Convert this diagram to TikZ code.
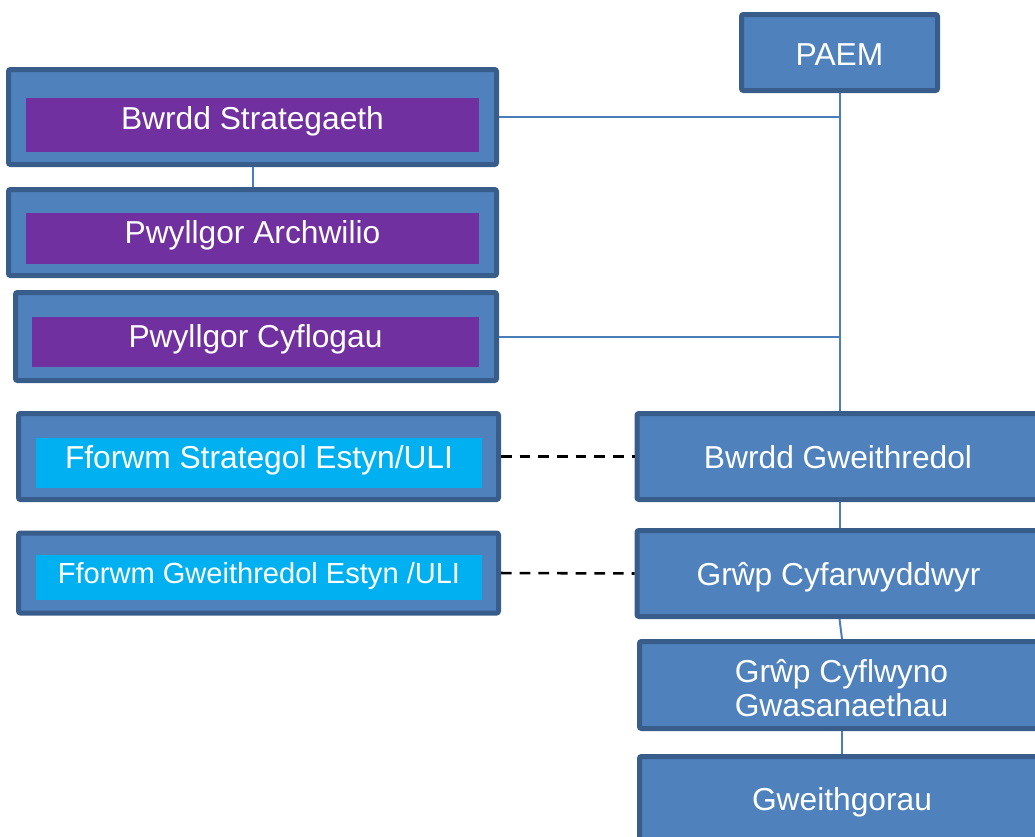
\documentclass[tikz,border=0pt]{standalone}
\usepackage{fontspec}
\setmainfont{Liberation Sans}
\definecolor{boxfill}{HTML}{4F81BD}
\definecolor{boxline}{HTML}{385D8A}
\definecolor{purp}{HTML}{7030A0}
\definecolor{cyanin}{HTML}{00B0F0}
\definecolor{connc}{HTML}{4A7EBB}
\begin{document}
\begin{tikzpicture}[x=0.75pt,y=-0.75pt,
  outerbox/.style={draw=boxline, fill=boxfill, line width=3.75pt, rounded corners=1.5pt, inner sep=0pt},
  purpbox/.style={fill=purp, draw=none, inner sep=0pt},
  cyanbox/.style={fill=cyanin, draw=none, inner sep=0pt},
  lbl/.style={text=white, font=\fontsize{23.8}{28}\selectfont, inner sep=0pt, anchor=base},
  lblsmall/.style={text=white, font=\fontsize{21.8}{26}\selectfont, inner sep=0pt, anchor=base},
  link/.style={draw=connc, line width=1.5pt},
  dlink/.style={draw=black, line width=1.9pt, dash pattern=on 8pt off 6pt}]
\useasboundingbox (0,0) rectangle (1035,836);

% right column
\node[outerbox, minimum width=147pt, minimum height=57pt] (paem) at (839.5,52.5) {};
\node[lbl] (tpaem) at (839.5,65) {PAEM};

\node[outerbox, minimum width=303.75pt, minimum height=64.5pt] (bg) at (839.5,456.5) {};
\node[lbl] (tbg) at (838,468) {Bwrdd Gweithredol};

\node[outerbox, minimum width=303.75pt, minimum height=64.5pt] (gc) at (839.5,573.5) {};
\node[lbl] (tgc) at (838.5,585) {Grŵp Cyfarwyddwyr};

\node[outerbox, minimum width=303.75pt, minimum height=65.25pt] (gcg) at (842,685) {};
\node[lbl] (tgcg1) at (841.5,682) {Grŵp Cyflwyno};
\node[lbl] (tgcg2) at (841.5,716) {Gwasanaethau};

\node[outerbox, minimum width=303.75pt, minimum height=64.5pt] (gw) at (842,799.5) {};
\node[lbl] (tgw) at (842,810) {Gweithgorau};

% left column
\node[outerbox, minimum width=366pt, minimum height=71.25pt] (bs) at (252.5,117) {};
\node[purpbox, minimum width=339.75pt, minimum height=40.5pt] (bsi) at (252.5,125) {};
\node[lbl] (tbs) at (252.5,129.3) {Bwrdd Strategaeth};

\node[outerbox, minimum width=366pt, minimum height=64.5pt] (pa) at (252.5,232.5) {};
\node[purpbox, minimum width=339.75pt, minimum height=38.25pt] (pai) at (252.5,238.5) {};
\node[lbl] (tpa) at (252.5,243) {Pwyllgor Archwilio};

\node[outerbox, minimum width=360.75pt, minimum height=66pt] (pc) at (256,336.5) {};
\node[purpbox, minimum width=335.25pt, minimum height=37.5pt] (pci) at (255.5,342) {};
\node[lbl] (tpc) at (255.5,347) {Pwyllgor Cyflogau};

\node[outerbox, minimum width=360pt, minimum height=64.5pt] (fs) at (258.5,456.5) {};
\node[cyanbox, minimum width=334.5pt, minimum height=37.5pt] (fsi) at (259,463) {};
\node[lbl] (tfs) at (259,468) {Fforwm Strategol Estyn/ULI};

\node[outerbox, minimum width=360pt, minimum height=60pt] (fg) at (258.5,573) {};
\node[cyanbox, minimum width=334.5pt, minimum height=33.75pt] (fgi) at (259,577.5) {};
\node[lblsmall] (tfg) at (259,583) {Fforwm Gweithredol Estyn /ULI};

% connectors
\draw[link] (paem.south) -- (bg.north);
\draw[link] (bs.east) -- (bs.east -| paem.south);
\draw[link] (pc.east) -- (pc.east -| paem.south);
\draw[link] (bs.south) -- (pa.north);
\draw[link] (bg.south) -- (gc.north);
\draw[link] (gc.south) -- (gcg.north);
\draw[link] (gcg.south) -- (gw.north);
\draw[dlink] (fs.east) -- (bg.west);
\draw[dlink] (fg.east) -- (gc.west);
\end{tikzpicture}
\end{document}
